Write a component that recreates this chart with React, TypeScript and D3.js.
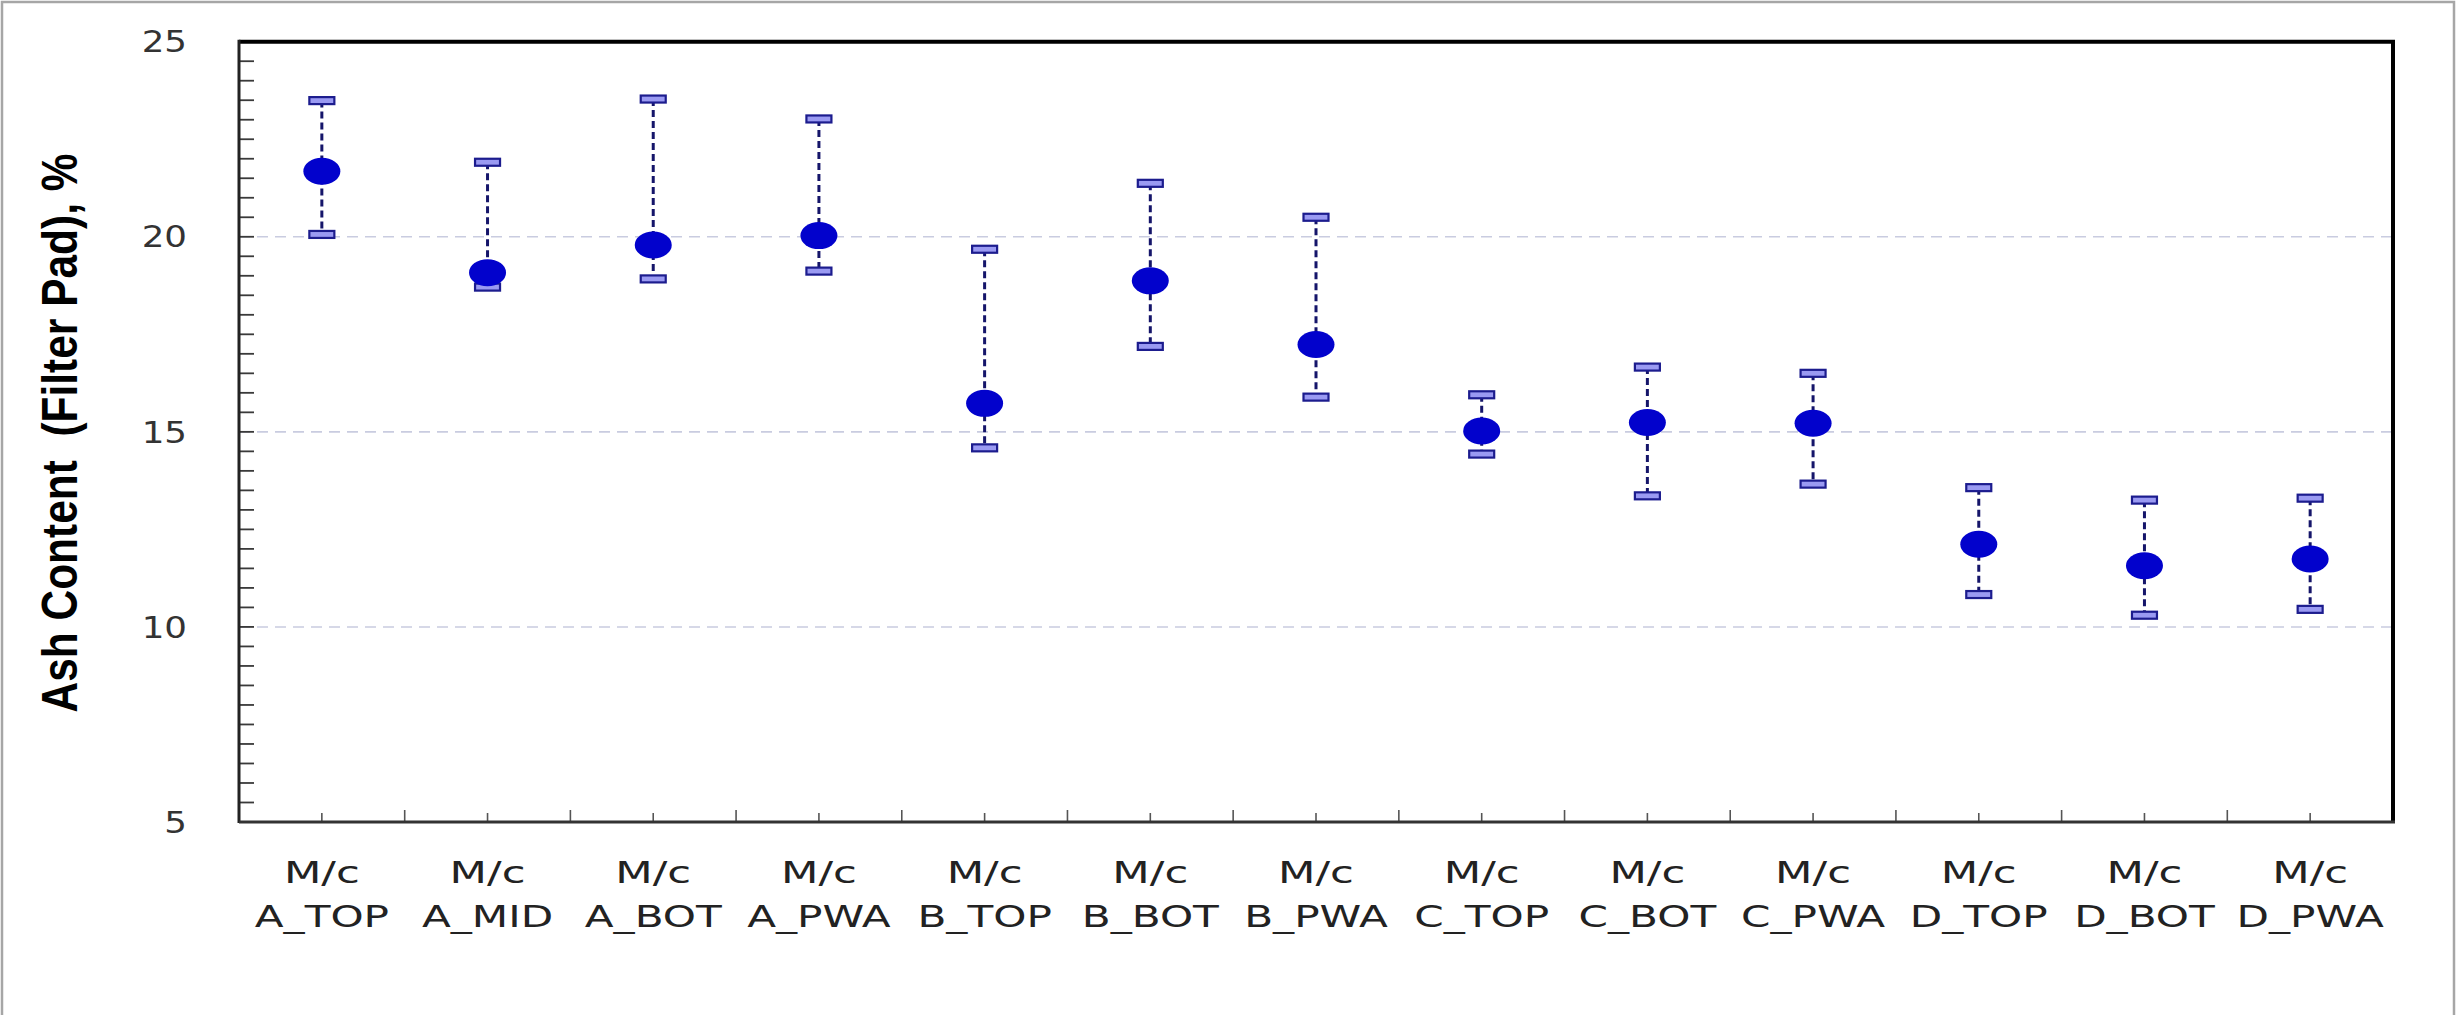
import React from "react";
import * as d3 from "d3";

// Sample groups along the x axis (two-line labels)
const groupPrefix = "M/c";
const groups = [
  "A_TOP", "A_MID", "A_BOT", "A_PWA",
  "B_TOP", "B_BOT", "B_PWA",
  "C_TOP", "C_BOT", "C_PWA",
  "D_TOP", "D_BOT", "D_PWA",
];

// Ash content (filter pad), % — mean with min/max range
const meanValues = [21.68, 19.08, 19.79, 20.03, 15.73, 18.87, 17.24, 15.02, 15.24, 15.22, 12.12, 11.57, 11.74];
const upperValues = [23.49, 21.91, 23.53, 23.02, 19.68, 21.37, 20.5, 15.95, 16.66, 16.5, 13.57, 13.25, 13.3];
const lowerValues = [20.06, 18.71, 18.92, 19.12, 14.59, 17.19, 15.89, 14.43, 13.36, 13.66, 10.83, 10.3, 10.45];

const yTickLabels = [5, 10, 15, 20, 25];
const gridValues = [10, 15, 20];
const yTitle = "Ash Content  (Filter Pad), %";

const W = 2458;
const H = 1015;
const plot = { left: 239, right: 2393, top: 41.7, bottom: 822 };

export default function App() {
  const x = d3.scaleBand<string>().domain(groups).range([plot.left, plot.right]).padding(0);
  const y = d3.scaleLinear().domain([5, 25]).range([plot.bottom, plot.top]);
  const bw = x.bandwidth();

  const minorTicks = y.ticks(40).filter((v) => v > 5 && v < 25);

  const rows = groups.map((g, i) => ({
    g,
    cx: (x(g) as number) + bw / 2,
    mean: meanValues[i],
    hi: upperValues[i],
    lo: lowerValues[i],
  }));

  const textFont = "'DejaVu Sans', Verdana, sans-serif";

  return (
    <svg
      width={W}
      height={H}
      viewBox={`0 0 ${W} ${H}`}
      style={{ position: "absolute", left: 0, top: 0, background: "#fff" }}
    >
      <rect x={0} y={0} width={W} height={H} fill="#fff" />
      {/* outer chart-area border */}
      <rect x={2} y={2} width={2452} height={H + 10} fill="none" stroke="#a6a6a6" strokeWidth={2.5} />

      {/* horizontal gridlines */}
      {gridValues.map((v) => (
        <line
          key={`g${v}`}
          x1={plot.left}
          x2={plot.right}
          y1={y(v)}
          y2={y(v)}
          stroke="#c9cce0"
          strokeWidth={1.6}
          strokeDasharray="11 7"
        />
      ))}

      {/* y minor ticks, pointing inward */}
      {minorTicks.map((v) => (
        <line key={`t${v}`} x1={plot.left} x2={plot.left + 15} y1={y(v)} y2={y(v)} stroke="#3a3a3a" strokeWidth={1.8} />
      ))}

      {/* x ticks at group centres and boundaries */}
      {rows.map((r, i) => (
        <g key={`xt${r.g}`}>
          <line x1={r.cx} x2={r.cx} y1={plot.bottom} y2={plot.bottom - 9} stroke="#555" strokeWidth={1.6} />
          {i > 0 && (
            <line
              x1={x(r.g) as number}
              x2={x(r.g) as number}
              y1={plot.bottom}
              y2={plot.bottom - 12}
              stroke="#555"
              strokeWidth={1.6}
            />
          )}
        </g>
      ))}

      {/* error bars */}
      {rows.map((r) => (
        <line
          key={`e${r.g}`}
          x1={r.cx}
          x2={r.cx}
          y1={y(r.hi)}
          y2={y(r.lo)}
          stroke="#15156a"
          strokeWidth={3}
          strokeDasharray="7 4"
        />
      ))}
      {rows.map((r) => (
        <g key={`c${r.g}`}>
          <rect x={r.cx - 12.5} y={y(r.hi) - 3.5} width={25} height={7} fill="#9a9af2" stroke="#1c1c8e" strokeWidth={2.2} />
          <rect x={r.cx - 12.5} y={y(r.lo) - 3.5} width={25} height={7} fill="#9a9af2" stroke="#1c1c8e" strokeWidth={2.2} />
        </g>
      ))}

      {/* mean markers */}
      {rows.map((r) => (
        <ellipse key={`m${r.g}`} cx={r.cx} cy={y(r.mean)} rx={18.5} ry={13.5} fill="#0202cc" />
      ))}

      {/* frame */}
      <line x1={plot.left} x2={plot.right + 2} y1={plot.top} y2={plot.top} stroke="#000" strokeWidth={4} />
      <line x1={plot.right} x2={plot.right} y1={plot.top} y2={plot.bottom} stroke="#000" strokeWidth={4} />
      <line x1={plot.left} x2={plot.left} y1={plot.top - 2} y2={plot.bottom + 1} stroke="#222" strokeWidth={3} />
      <line x1={plot.left} x2={plot.right + 2} y1={plot.bottom} y2={plot.bottom} stroke="#333" strokeWidth={2.8} />

      {/* y tick labels */}
      {yTickLabels.map((v) => (
        <text
          key={`yl${v}`}
          transform={`translate(187, ${y(v)}) scale(1.15, 1)`}
          textAnchor="end"
          dominantBaseline="central"
          fontFamily={textFont}
          fontSize={31}
          fill="#333"
        >
          {v}
        </text>
      ))}

      {/* x labels */}
      {rows.map((r) => (
        <g key={`xl${r.g}`} fontFamily={textFont} fontSize={31} fill="#222">
          <text transform={`translate(${r.cx}, 883) scale(1.4, 1)`} textAnchor="middle">
            {groupPrefix}
          </text>
          <text transform={`translate(${r.cx}, 927) scale(1.36, 1)`} textAnchor="middle">
            {r.g}
          </text>
        </g>
      ))}

      {/* y axis title */}
      <text
        transform={`translate(60, 433) rotate(-90) scale(1, 1.2)`}
        textAnchor="middle"
        dominantBaseline="central"
        fontFamily="'Liberation Sans', Arial, sans-serif"
        fontWeight="bold"
        fontSize={42}
        fill="#000"
        style={{ whiteSpace: "pre" }}
        textLength={559}
        lengthAdjust="spacingAndGlyphs"
      >
        {yTitle}
      </text>
    </svg>
  );
}
